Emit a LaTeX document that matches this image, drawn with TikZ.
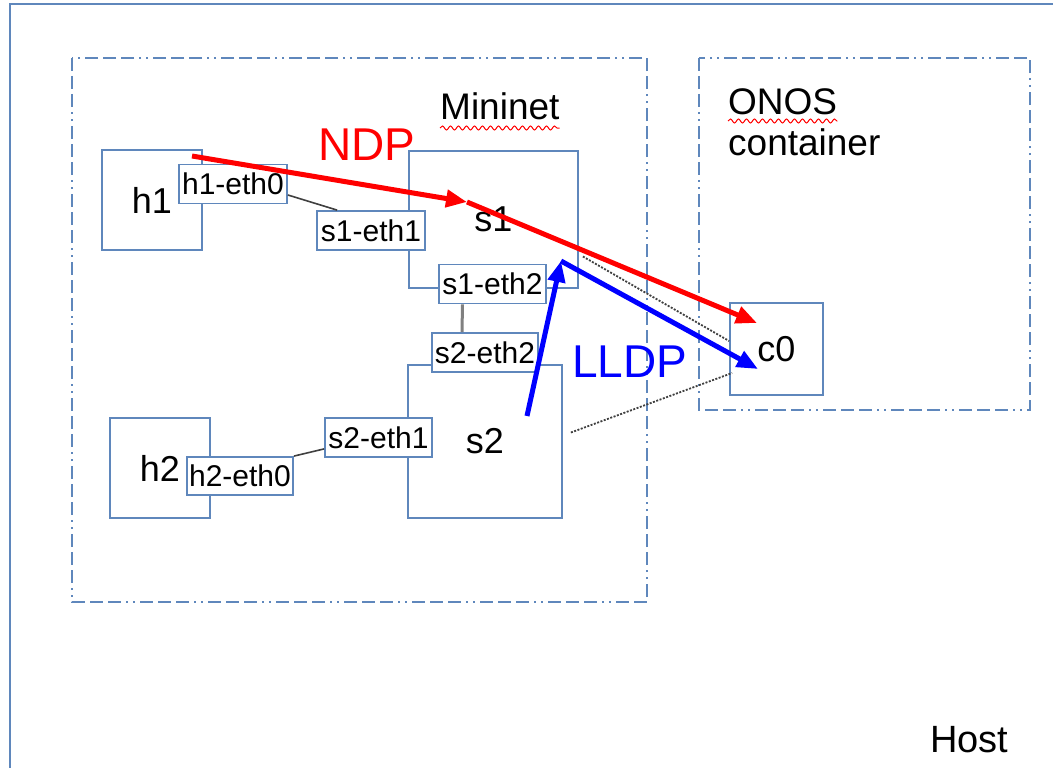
\documentclass[tikz,border=0pt]{standalone}
\usepackage{fontspec}
\setmainfont{Liberation Sans}
\usepackage{xcolor}
\usepackage{tikz}
\usetikzlibrary{positioning, arrows.meta, calc, decorations.pathmorphing}
\definecolor{frameblue}{HTML}{5F87BC}
\definecolor{wiregray}{HTML}{404040}
\definecolor{ndpred}{HTML}{FF0000}
\definecolor{lldpblue}{HTML}{0000FF}
\newcommand{\pxfont}[1]{\fontsize{#1}{#1}\selectfont}

\tikzset{
  devbox/.style={draw=frameblue, line width=1.8pt, inner sep=0pt, font=\pxfont{36}},
  portbox/.style={draw=frameblue, line width=1.8pt, fill=white, inner sep=0pt,
                  minimum width=107pt, minimum height=39pt, font=\pxfont{30}},
  area/.style={draw=frameblue, line width=1.8pt,
               dash pattern=on 13pt off 5pt on 13pt off 5pt on 13pt off 5pt on 2pt off 5pt on 2pt off 5pt},
  wire/.style={draw=wiregray, line width=1.6pt},
  ctrlwire/.style={draw=wiregray, line width=1.8pt, dash pattern=on 2pt off 1.5pt},
  flow/.style={line width=5pt, -{Triangle[length=21pt, width=17pt]}},
  spell/.style={draw=ndpred, line width=1pt, decorate,
                decoration={snake, amplitude=2pt, segment length=8pt}},
  tag/.style={inner sep=0pt, anchor=base west, font=\pxfont{37}}
}

\begin{document}
\begin{tikzpicture}[x=1pt, y=-1pt]
  \useasboundingbox (0,0) rectangle (1053,768);
  \clip (0,0) rectangle (1053,768);

  % host and the two containers
  \draw[draw=frameblue, line width=2pt] (10,4) rectangle (1080,790);
  \draw[area] (72,58) rectangle (647,602);
  \draw[area] (699,58) rectangle (1030,410);

  \node[tag] (mininet) at (440,120) {Mininet};
  \node[tag] (onos) at (728,114) {ONOS};
  \node[tag] (container) at (728,155) {container};
  \node[tag, font=\pxfont{38}] (host) at (930,752) {Host};
  \draw[spell] ([yshift=-8pt]mininet.base west) -- ([yshift=-8pt]mininet.base east);
  \draw[spell] ([yshift=-7pt]onos.base west) -- ([yshift=-7pt]onos.base east);

  % hosts, switches, controller
  \node[devbox, minimum width=100pt, minimum height=100pt] (h1) at (152,200) {h1};
  \node[devbox, minimum width=169pt, minimum height=137pt] (s1) at (493.5,219.5) {s1};
  \node[devbox, minimum width=154pt, minimum height=153pt] (s2) at (485,441.5) {s2};
  \node[devbox, minimum width=100pt, minimum height=100pt] (h2) at (160,468) {h2};
  \node[devbox, minimum width=93pt, minimum height=92pt] (c0) at (776.5,349) {c0};

  % interfaces
  \node[portbox, minimum width=108pt] (h1eth0) at (233,184) {h1-eth0};
  \node[portbox, minimum width=108pt] (s1eth1) at (371,230.5) {s1-eth1};
  \node[portbox] (s1eth2) at (492.5,284) {s1-eth2};
  \node[portbox, minimum width=106pt] (s2eth2) at (485,352.5) {s2-eth2};
  \node[portbox] (s2eth1) at (378.5,437.5) {s2-eth1};
  \node[portbox, minimum width=106pt, minimum height=38pt] (h2eth0) at (240,476) {h2-eth0};

  % links
  \draw[wire] ([yshift=-11pt]h1eth0.east) -- ([xshift=21pt]s1eth1.north west);
  \draw[wire, draw=gray, line width=3pt] ([xshift=-30pt]s1eth2.south) -- ([xshift=-23pt]s2eth2.north);
  \draw[wire] (h2eth0.north east) -- ([yshift=9pt]s2eth1.south west);
  \draw[ctrlwire] ($(s1.east)+(4,37)$) -- ($(c0.west)+(0,-8)$);
  \draw[ctrlwire] ($(s2.east)+(8,-9)$) -- ($(c0.west)+(3,24)$);

  % NDP and LLDP paths
  \coordinate (ndpsrc) at (192,156);
  \coordinate (ndphop) at (467,202);
  \coordinate (ndpdst) at (757,323);
  \coordinate (lldpsrc) at (527,416);
  \coordinate (lldphop) at (561,261);
  \coordinate (lldpdst) at (758,369);
  \draw[flow, ndpred] (ndpsrc) -- (ndphop);
  \draw[flow, ndpred] (ndphop) -- (ndpdst);
  \draw[flow, lldpblue] (lldpsrc) -- (lldphop);
  \draw[flow, lldpblue] (lldphop) -- (lldpdst);
  \node[tag, font=\pxfont{46}, text=ndpred] (ndp) at (318,160) {NDP};
  \node[tag, font=\pxfont{46}, text=lldpblue] (lldp) at (572,377) {LLDP};
\end{tikzpicture}
\end{document}
